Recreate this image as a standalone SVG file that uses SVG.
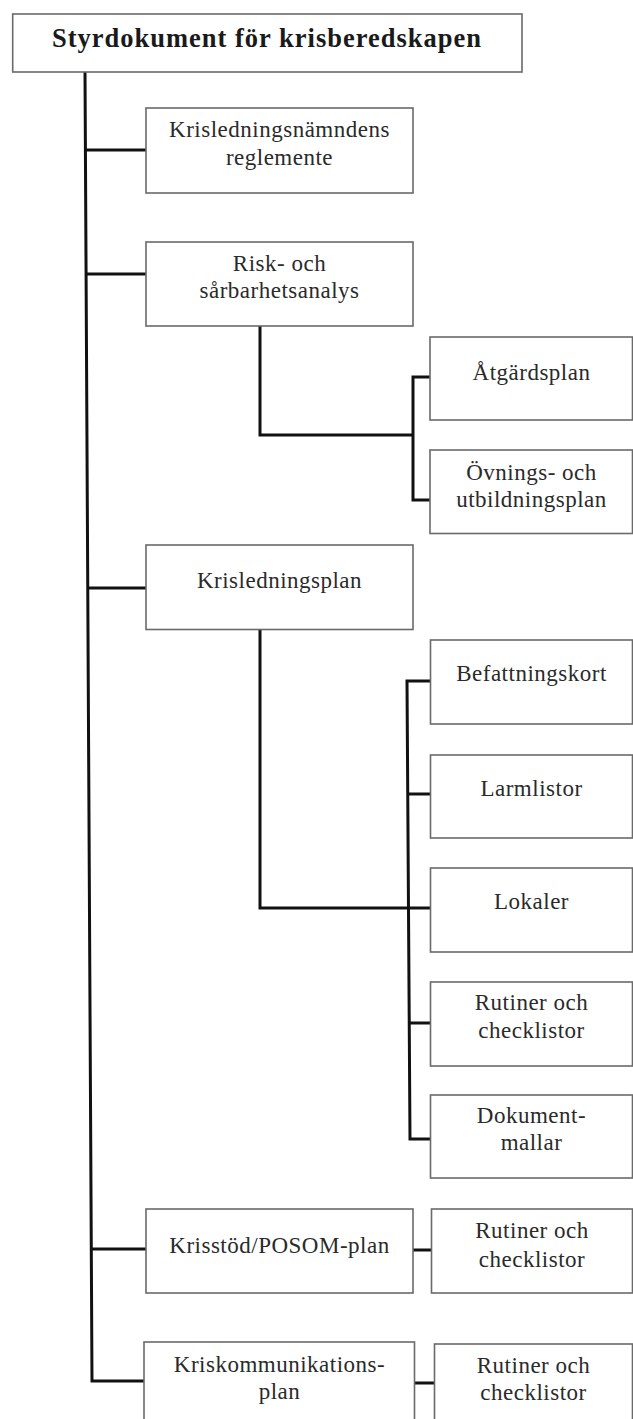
<svg xmlns="http://www.w3.org/2000/svg" width="633" height="1419" viewBox="0 0 633 1419">
<style>
.box{fill:#fff;stroke:#6a6a6a;stroke-width:1.6}
.t{font-family:"Liberation Serif","Times New Roman",serif;font-size:23px;letter-spacing:0.5px;fill:#2a2a2a;text-anchor:middle}
.tb{font-family:"Liberation Serif","Times New Roman",serif;font-size:26.5px;font-weight:bold;letter-spacing:1px;fill:#1a1a1a;text-anchor:middle}
.c{fill:none;stroke:#111;stroke-width:3;stroke-linejoin:miter}
</style>
<rect width="633" height="1419" fill="#fff"/>
<g id="connectors">
<path class="c" d="M85,72 L92,1381 L144,1381"/>
<path class="c" d="M85.4,150 H146"/>
<path class="c" d="M86.1,274 H146"/>
<path class="c" d="M87.8,588 H146"/>
<path class="c" d="M91.3,1249 H146"/>
<path class="c" d="M260,326 V435 H413"/>
<path class="c" d="M430,377 H413 V500 H430"/>
<path class="c" d="M260,629 V908 H430.5"/>
<path class="c" d="M430.5,681 H407 L410,1139 H430.5"/>
<path class="c" d="M408,794 H430.5"/>
<path class="c" d="M409,1023 H430.5"/>
<path class="c" d="M413,1250 H431.5"/>
<path class="c" d="M414.5,1383 H434.5"/>
</g>
<g id="root"><rect class="box" x="12.7" y="14" width="509.3" height="58"/><text class="tb" x="267" y="47">Styrdokument för krisberedskapen</text></g>
<g id="reglemente"><rect class="box" x="146" y="108" width="267" height="85"/><text class="t" x="279.5" y="137">Krisledningsnämndens</text><text class="t" x="279.5" y="165">reglemente</text></g>
<g id="risk"><rect class="box" x="146" y="242" width="267" height="84"/><text class="t" x="279.5" y="271">Risk- och</text><text class="t" x="279.5" y="298">sårbarhetsanalys</text></g>
<g id="atgardsplan"><rect class="box" x="430" y="337" width="202.5" height="83"/><text class="t" x="531.5" y="379.5">Åtgärdsplan</text></g>
<g id="ovningsplan"><rect class="box" x="430" y="450" width="202.5" height="83.5"/><text class="t" x="531.5" y="480">Övnings- och</text><text class="t" x="531.5" y="507">utbildningsplan</text></g>
<g id="krisledningsplan"><rect class="box" x="146" y="545" width="267" height="84.5"/><text class="t" x="279.5" y="588">Krisledningsplan</text></g>
<g id="befattningskort"><rect class="box" x="430.5" y="640" width="202" height="84"/><text class="t" x="531.5" y="681">Befattningskort</text></g>
<g id="larmlistor"><rect class="box" x="430.5" y="755" width="202" height="83"/><text class="t" x="531.5" y="796">Larmlistor</text></g>
<g id="lokaler"><rect class="box" x="430.5" y="868" width="202" height="84"/><text class="t" x="531.5" y="909">Lokaler</text></g>
<g id="rutiner1"><rect class="box" x="430.5" y="982" width="202" height="84"/><text class="t" x="531.5" y="1010">Rutiner och</text><text class="t" x="531.5" y="1038">checklistor</text></g>
<g id="dokumentmallar"><rect class="box" x="430.5" y="1095" width="202" height="83"/><text class="t" x="531.5" y="1123">Dokument-</text><text class="t" x="531.5" y="1150">mallar</text></g>
<g id="posom"><rect class="box" x="146" y="1209" width="267" height="84"/><text class="t" x="279.5" y="1253">Krisstöd/POSOM-plan</text></g>
<g id="rutiner2"><rect class="box" x="431.5" y="1209" width="201" height="84"/><text class="t" x="532" y="1238">Rutiner och</text><text class="t" x="532" y="1267">checklistor</text></g>
<g id="kriskommunikation"><rect class="box" x="144" y="1342" width="270.5" height="90"/><text class="t" x="279.5" y="1372">Kriskommunikations-</text><text class="t" x="279.5" y="1399">plan</text></g>
<g id="rutiner3"><rect class="box" x="434.5" y="1344" width="198" height="90"/><text class="t" x="533.5" y="1373">Rutiner och</text><text class="t" x="533.5" y="1400">checklistor</text></g>
</svg>
